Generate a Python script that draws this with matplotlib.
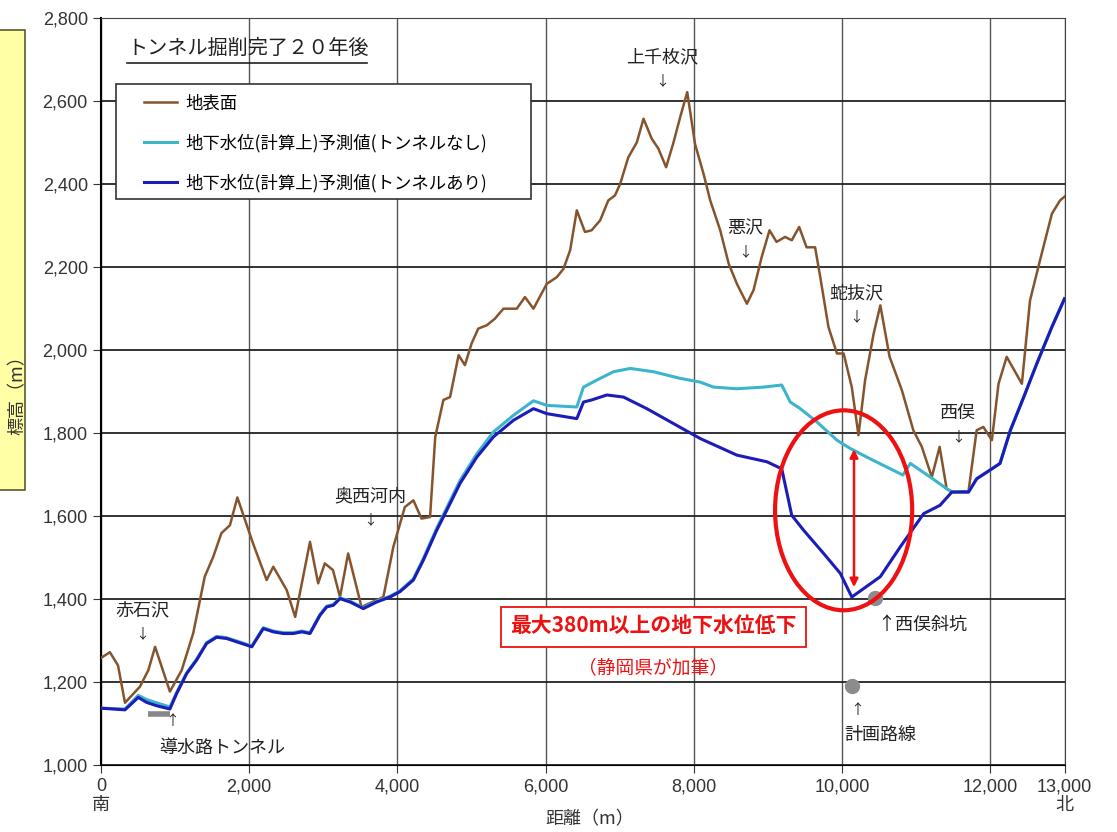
"""
トンネル掘削完了20年後の地下水位予測 (断面図)
"""
import numpy as np
import matplotlib.pyplot as plt
from matplotlib.patches import Ellipse, Rectangle

plt.rcParams['font.family'] = ['Noto Sans CJK JP', 'DejaVu Sans']
NUM_FONT = ['Liberation Sans', 'Noto Sans CJK JP']

# 地表面
surface_x = [0, 120, 230, 324, 526, 640, 730, 930, 1090, 1245, 1400, 1515, 1625,
             1740, 1840, 2050, 2235, 2325, 2505, 2620, 2710, 2820, 2930, 3020,
             3130, 3225, 3335, 3515, 3810, 3945, 4100, 4215, 4325, 4440, 4510,
             4620, 4710, 4825, 4910, 5000, 5090, 5205, 5315, 5430, 5610, 5720,
             5835, 6015, 6150, 6240, 6330, 6420, 6530, 6620, 6735, 6845, 6935,
             7005, 7115, 7230, 7320, 7430, 7520, 7625, 7725, 7815, 7910, 8015,
             8130, 8220, 8355, 8470, 8580, 8715, 8805, 8915, 9020, 9115, 9230,
             9320, 9420, 9520, 9635, 9705, 9815, 9930, 10020, 10130, 10220,
             10310, 10425, 10515, 10640, 10805, 10960, 11075, 11210, 11315,
             11410, 11500, 11705, 11815, 11905, 12020, 12110, 12220, 12425,
             12535, 12670, 12830, 12940, 13000]
surface_y = [1258, 1272, 1240, 1150, 1189, 1229, 1285, 1177, 1229, 1318, 1454,
             1502, 1559, 1578, 1645, 1535, 1446, 1478, 1422, 1357, 1438, 1538,
             1438, 1486, 1470, 1405, 1510, 1381, 1405, 1526, 1622, 1638, 1594,
             1598, 1791, 1880, 1887, 1988, 1964, 2016, 2052, 2060, 2076, 2100,
             2100, 2128, 2100, 2160, 2176, 2196, 2241, 2337, 2285, 2289, 2313,
             2361, 2373, 2401, 2465, 2501, 2558, 2510, 2486, 2441, 2501, 2562,
             2622, 2497, 2425, 2361, 2289, 2208, 2160, 2112, 2145, 2225, 2289,
             2261, 2273, 2265, 2297, 2248, 2248, 2176, 2056, 1992, 1992, 1911,
             1795, 1928, 2040, 2108, 1984, 1904, 1807, 1767, 1694, 1767, 1666,
             1658, 1660, 1807, 1815, 1783, 1919, 1984, 1919, 2120, 2217, 2329,
             2361, 2370]

# 地下水位 (トンネルなし)
no_tunnel_x = [0, 324, 503, 615, 750, 930, 1020, 1155, 1290, 1425, 1560, 1695,
               2035, 2190, 2325, 2460, 2595, 2710, 2820, 2955, 3045, 3135, 3225,
               3360, 3540, 3720, 3900, 4035, 4215, 4350, 4530, 4665, 4845, 5070,
               5295, 5565, 5835, 6015, 6420, 6510, 6690, 6915, 7140, 7455, 7815,
               8085, 8265, 8580, 8940, 9185, 9300, 9435, 9660, 9930, 10110,
               10335, 10605, 10820, 10920, 11190, 11435, 11480, 11705, 11815,
               11995, 12130, 12270, 12450, 12625, 12830, 13000]
no_tunnel_y = [1137, 1135, 1168, 1158, 1150, 1140, 1174, 1222, 1255, 1295, 1310,
               1307, 1287, 1331, 1323, 1319, 1319, 1323, 1319, 1363, 1383, 1387,
               1403, 1395, 1379, 1395, 1407, 1420, 1449, 1498, 1571, 1620, 1686,
               1750, 1803, 1843, 1878, 1867, 1863, 1911, 1928, 1948, 1956, 1948,
               1932, 1923, 1911, 1907, 1911, 1916, 1875, 1859, 1827, 1783, 1763,
               1742, 1718, 1699, 1727, 1694, 1663, 1658, 1658, 1690, 1711, 1727,
               1807, 1887, 1967, 2056, 2124]

# 地下水位 (トンネルあり)
tunnel_x = [0, 324, 503, 615, 750, 930, 1020, 1155, 1290, 1425, 1560, 1695,
            2035, 2190, 2325, 2460, 2595, 2710, 2820, 2955, 3045, 3135, 3225,
            3360, 3540, 3720, 3900, 4035, 4215, 4350, 4530, 4665, 4845, 5070,
            5295, 5565, 5835, 6015, 6420, 6510, 6620, 6825, 7050, 7365, 7725,
            8085, 8580, 8985, 9185, 9320, 9480, 9750, 9975, 10130, 10515,
            10785, 11100, 11320, 11480, 11705, 11815, 11995, 12130, 12270,
            12450, 12625, 12830, 13000]
tunnel_y = [1137, 1133, 1163, 1151, 1143, 1135, 1172, 1220, 1253, 1293, 1308,
            1305, 1285, 1329, 1321, 1317, 1317, 1321, 1317, 1361, 1381, 1385,
            1401, 1393, 1377, 1393, 1405, 1418, 1446, 1494, 1566, 1614, 1679,
            1742, 1791, 1831, 1859, 1847, 1835, 1875, 1880, 1892, 1887, 1859,
            1823, 1787, 1747, 1731, 1714, 1602, 1566, 1510, 1462, 1405, 1454,
            1526, 1606, 1626, 1658, 1658, 1690, 1711, 1727, 1807, 1887, 1967,
            2056, 2124]

# 地名ラベル
place_names = ['上千枚沢', '悪沢', '蛇抜沢', '西俣', '奥西河内', '赤石沢']
place_x = [7570, 8690, 10190, 11565, 3630, 553]
place_y = [2706, 2294, 2137, 1848, 1648, 1373]

x_ticks = [0, 2000, 4000, 6000, 8000, 10000, 12000, 13000]
x_tick_labels = ['0\n南', '2,000', '4,000', '6,000', '8,000', '10,000', '12,000', '13,000\n北']
y_ticks = np.arange(1000, 2801, 200)

fig = plt.figure(figsize=(11.17, 8.32), dpi=100)
ax = fig.add_axes([0.0904, 0.0805, 0.8626, 0.8975])

# 左端の黄色い枠 (見切れている)
fig.patches.append(Rectangle((-0.01, 0.411), 0.032, 0.553, transform=fig.transFigure,
                             facecolor='#ffffa6', edgecolor='#5a5a30', lw=1.2))
fig.text(0.016, 0.53, '標高（m）', rotation=90, ha='center', va='center',
         fontsize=13, color='#333333')

ax.plot(surface_x, surface_y, color='#86542c', lw=1.8, label='地表面', zorder=3)
ax.plot(no_tunnel_x, no_tunnel_y, color='#3cb4cc', lw=2.2,
        label='地下水位(計算上)予測値(トンネルなし)', zorder=4)
ax.plot(tunnel_x, tunnel_y, color='#1c1cb8', lw=2.2,
        label='地下水位(計算上)予測値(トンネルあり)', zorder=5)

ax.set_xlim(0, 13000)
ax.set_ylim(1000, 2800)
ax.set_xticks(x_ticks)
ax.set_xticklabels(x_tick_labels, fontsize=13, color='#333333', linespacing=1.1,
                   family=NUM_FONT)
ax.set_yticks(y_ticks)
ax.set_yticklabels([f'{v:,}' for v in y_ticks], fontsize=13, color='#333333',
                   family=NUM_FONT)
ax.xaxis.grid(True, color='#555555', lw=1.0)
ax.yaxis.grid(True, color='#222222', lw=1.3)
ax.set_axisbelow(True)
ax.tick_params(axis='both', length=6, color='#333333')
for s in ax.spines.values():
    s.set_color('#444444')
ax.spines['left'].set_color('black')
ax.spines['left'].set_linewidth(1.5)
ax.spines['bottom'].set_color('black')
fig.text(0.528, 0.015, '距離（m）', fontsize=13, color='#333333', ha='center', va='center')

# 凡例: 枠は別に描く
ax.add_patch(Rectangle((0.0156, 0.7577), 0.4305, 0.154, transform=ax.transAxes,
                       facecolor='white', edgecolor='#333333', lw=1.2, zorder=9))
leg = ax.legend(loc='upper left', bbox_to_anchor=(0.045, 0.898), fontsize=12.5,
                frameon=False, handlelength=1.9, borderpad=0, borderaxespad=0,
                labelspacing=1.22, handletextpad=0.45)
leg.set_zorder(10)

ax.text(350, 2728, 'トンネル掘削完了２０年後', fontsize=14.5, color='#222222',
        ha='left', va='center')
ax.plot([350, 3590], [2692, 2692], color='#222222', lw=1.2)

for name, nx, ny in zip(place_names, place_x, place_y):
    ax.text(nx, ny, name, fontsize=13, ha='center', va='center', color='#222222')
    ax.text(nx, ny - 58, '↓', fontsize=10, ha='center', va='center', color='#222222')

# 導水路トンネル
ax.plot([640, 930], [1122, 1122], color='#888888', lw=4, solid_capstyle='butt', zorder=6)
ax.text(967, 1105, '↑', fontsize=10, ha='center', va='center', color='#222222')
ax.text(1640, 1041, '導水路トンネル', fontsize=13, ha='center', va='center', color='#222222')

# 西俣斜坑・計画路線
ax.plot([10445, 10135], [1402, 1190], 'o', color='#8c8c8c', ms=10, ls='none', zorder=6)
ax.text(10470, 1337, '↑西俣斜坑', fontsize=13, ha='left', va='center', color='#222222')
ax.text(10200, 1133, '↑', fontsize=10, ha='center', va='center', color='#222222')
ax.text(10510, 1072, '計画路線', fontsize=13, ha='center', va='center', color='#222222')

# 静岡県の加筆
ax.add_patch(Ellipse((10020, 1614), 1850, 482, fill=False, edgecolor='#ee1111',
                     lw=3.0, zorder=7))
ax.annotate('', xy=(10160, 1422), xytext=(10160, 1768),
            arrowprops=dict(arrowstyle='<|-|>', color='#ee1111', lw=1.8,
                            mutation_scale=12), zorder=8)
ax.text(7450, 1333, '最大380m以上の地下水位低下', fontsize=15, fontweight='bold',
        color='#ee1111', ha='center', va='center', zorder=8,
        bbox=dict(boxstyle='square,pad=0.45', facecolor='white', edgecolor='#ee1111', lw=1.3))
ax.text(7450, 1234, '（静岡県が加筆）', fontsize=13.5, color='#ee1111',
        ha='center', va='center')

fig.savefig('out.png', dpi=100)
